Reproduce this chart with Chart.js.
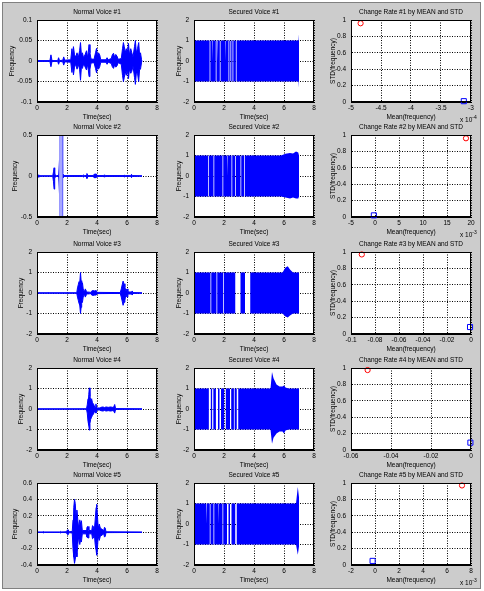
<!DOCTYPE html>
<html><head><meta charset="utf-8">
<script src="https://cdn.jsdelivr.net/npm/chart.js@4"></script>
<style>
html,body{margin:0;padding:0;background:#fff;width:484px;height:591px;overflow:hidden;font-family:"Liberation Sans",Arial,sans-serif}
#fig{position:absolute;left:2px;top:2px;width:479px;height:587px;background:#cccccc;border:1px solid #808080;box-sizing:border-box}
canvas{position:absolute}
.mult{position:absolute;font-size:6.5px;color:#000;white-space:nowrap;line-height:1}
.mult sup{font-size:5px;vertical-align:3px}
</style></head><body><div id="fig"></div>
<script>
// ---------------- DATA ----------------
const timeTicks = [0, 2, 4, 6, 8];
const titlesNormal = ['Normal Voice #1','Normal Voice #2','Normal Voice #3','Normal Voice #4','Normal Voice #5'];
const titlesSecured = ['Secured Voice #1','Secured Voice #2','Secured Voice #3','Secured Voice #4','Secured Voice #5'];
const titlesRate = ['Change Rate #1 by MEAN and STD','Change Rate #2 by MEAN and STD','Change Rate #3 by MEAN and STD','Change Rate #4 by MEAN and STD','Change Rate #5 by MEAN and STD'];

// Normal voice envelopes (time in sec, upper / lower amplitude)
const nv1Time  = [0,0.86,0.93,1.0,1.38,1.44,1.5,1.72,1.78,1.85,2.25,2.33,2.38,2.43,2.5,2.58,2.67,2.75,2.84,2.9,2.96,3.03,3.1,3.2,3.3,3.38,3.47,3.53,3.6,3.8,3.9,3.97,4.03,4.1,4.18,4.25,4.6,4.67,4.75,4.95,5.02,5.1,5.17,5.25,5.33,5.42,5.62,5.7,5.76,5.82,5.88,5.95,6.02,6.1,6.16,6.25,6.32,6.4,6.5,6.56,6.62,6.7,6.78,6.84,6.9,6.97,7.0];
const nv1Upper = [0.001,0.001,0.015,0.001,0.001,0.008,0.001,0.002,0.01,0.002,0.003,0.03,0.012,0.035,0.015,0.01,0.02,0.008,0.025,0.045,0.015,0.02,0.008,0.015,0.025,0.008,0.04,0.02,0.005,0.004,0.02,0.031,0.012,0.02,0.015,0.003,0.003,0.008,0.003,0.006,0.015,0.019,0.01,0.016,0.012,0.004,0.006,0.03,0.045,0.035,0.02,0.03,0.02,0.043,0.015,0.03,0.02,0.01,0.035,0.05,0.02,0.03,0.045,0.015,0.02,0.003,0.001];
const nv1Lower = [-0.001,-0.001,-0.014,-0.001,-0.001,-0.008,-0.001,-0.002,-0.01,-0.002,-0.003,-0.028,-0.01,-0.034,-0.015,-0.008,-0.02,-0.008,-0.02,-0.047,-0.015,-0.018,-0.008,-0.014,-0.022,-0.008,-0.038,-0.02,-0.005,-0.004,-0.018,-0.029,-0.012,-0.02,-0.014,-0.003,-0.003,-0.008,-0.003,-0.006,-0.014,-0.018,-0.01,-0.015,-0.012,-0.004,-0.008,-0.035,-0.05,-0.04,-0.025,-0.035,-0.02,-0.043,-0.02,-0.03,-0.025,-0.012,-0.04,-0.057,-0.03,-0.03,-0.05,-0.02,-0.02,-0.003,-0.001];

const nv2Time  = [0,0.08,0.12,0.16,1.05,1.1,1.14,1.18,1.3,1.45,1.5,1.53,1.56,1.6,1.64,1.68,1.71,1.8,3.05,3.1,3.15,3.28,3.33,3.4,3.75,3.8,3.95,4.02,4.45,4.5,4.55,5.8,5.85,5.9,6.25,6.3,6.35,7.0];
const nv2Upper = [0.003,0.003,0.015,0.003,0.003,0.05,0.1,0.02,0.003,0.01,0.2,0.6,0.05,0.04,0.03,0.6,0.03,0.005,0.005,0.012,0.005,0.005,0.03,0.005,0.005,0.02,0.025,0.005,0.005,0.015,0.005,0.005,0.012,0.005,0.005,0.02,0.005,0.003];
const nv2Lower = [-0.003,-0.003,-0.015,-0.003,-0.003,-0.07,-0.16,-0.02,-0.003,-0.01,-0.22,-0.6,-0.05,-0.04,-0.03,-0.6,-0.03,-0.005,-0.005,-0.012,-0.005,-0.005,-0.03,-0.005,-0.005,-0.02,-0.02,-0.005,-0.005,-0.015,-0.005,-0.005,-0.012,-0.005,-0.005,-0.02,-0.005,-0.003];
// clipped (saturated) band in voice #2
const nv2BandTime  = [1.47,1.72];
const nv2BandUpper = [0.6,0.6];
const nv2BandLower = [-0.6,-0.6];

const nv3Time  = [0,0.74,0.78,0.82,2.65,2.7,2.75,2.8,2.85,2.9,2.94,2.98,3.03,3.08,3.15,3.22,3.28,3.35,3.6,3.65,3.75,3.85,3.95,4.0,5.55,5.62,5.68,5.74,5.8,5.86,5.92,6.0,6.06,6.3,6.35,6.4,7.0];
const nv3Upper = [0.01,0.01,0.04,0.01,0.01,0.25,0.4,0.55,0.5,1.0,0.6,0.4,0.5,0.2,0.05,0.2,0.1,0.05,0.03,0.1,0.12,0.1,0.12,0.03,0.02,0.2,0.4,0.58,0.45,0.3,0.1,0.2,0.05,0.05,0.1,0.02,0.01];
const nv3Lower = [-0.01,-0.01,-0.04,-0.01,-0.01,-0.2,-0.35,-0.5,-0.6,-1.0,-0.7,-0.5,-0.45,-0.2,-0.05,-0.2,-0.1,-0.05,-0.03,-0.1,-0.12,-0.1,-0.1,-0.03,-0.02,-0.2,-0.4,-0.6,-0.45,-0.35,-0.1,-0.2,-0.05,-0.05,-0.1,-0.02,-0.01];

const nv4Time  = [0,3.3,3.35,3.4,3.45,3.49,3.53,3.58,3.64,3.7,3.76,3.82,3.88,3.93,3.98,4.2,4.25,4.4,4.5,4.6,4.75,4.9,5.05,5.12,5.18,5.24,7.0];
const nv4Upper = [0.01,0.01,0.2,0.5,0.7,1.03,0.6,0.45,0.5,0.3,0.25,0.15,0.05,0.25,0.05,0.05,0.08,0.1,0.07,0.1,0.08,0.1,0.08,0.1,0.22,0.02,0.01];
const nv4Lower = [-0.01,-0.01,-0.2,-0.6,-0.8,-1.03,-0.7,-0.5,-0.4,-0.3,-0.25,-0.15,-0.05,-0.2,-0.05,-0.05,-0.08,-0.1,-0.07,-0.1,-0.08,-0.1,-0.08,-0.1,-0.2,-0.02,-0.01];

const nv5Time  = [0,0.4,0.44,0.48,1.5,1.55,1.6,1.95,2.02,2.08,2.14,2.35,2.4,2.45,2.5,2.55,2.6,2.66,2.72,2.78,2.85,2.9,2.96,3.02,3.28,3.33,3.4,3.46,3.65,3.7,3.76,3.82,3.88,3.94,3.98,4.03,4.08,4.15,4.22,4.45,4.5,4.55,4.6,7.0];
const nv5Upper = [0.003,0.003,0.008,0.003,0.003,0.01,0.003,0.005,0.025,0.03,0.005,0.01,0.15,0.3,0.4,0.35,0.2,0.27,0.15,0.05,0.15,0.1,0.14,0.02,0.02,0.06,0.07,0.02,0.02,0.08,0.07,0.02,0.15,0.3,0.34,0.2,0.05,0.1,0.05,0.02,0.06,0.05,0.005,0.003];
const nv5Lower = [-0.003,-0.003,-0.008,-0.003,-0.003,-0.01,-0.003,-0.005,-0.025,-0.03,-0.005,-0.01,-0.2,-0.3,-0.38,-0.33,-0.25,-0.3,-0.15,-0.05,-0.15,-0.1,-0.12,-0.02,-0.02,-0.06,-0.07,-0.02,-0.02,-0.08,-0.07,-0.02,-0.15,-0.22,-0.28,-0.2,-0.05,-0.1,-0.05,-0.02,-0.06,-0.05,-0.005,-0.003];

// Secured voices: block of +/-1 up to the end time, white gaps, overshoot points
const svEnd = [7.0, 7.0, 7.0, 7.0, 7.0];
const sv1GapStart = [1.04,1.2,1.45,1.54,1.72,2.08,2.3,2.43,2.57,2.79];
const sv1GapEnd   = [1.09,1.25,1.5,1.59,1.77,2.13,2.35,2.48,2.62,2.84];
const sv1PeakTime = [6.97,7.0], sv1PeakUpper = [1,1.3], sv1PeakLower = [-1,-1.3];

const sv2GapStart = [0.95,1.3,1.9,2.2,2.5,2.75,3.1,3.35];
const sv2GapEnd   = [1.0,1.35,1.95,2.25,2.55,2.8,3.15,3.4];
const sv2PeakTime = [5.8,6.1,6.4,6.6,6.8,6.95], sv2PeakUpper = [1,1.08,1.12,1.1,1.2,1.15], sv2PeakLower = [-1,-1.05,-1.1,-1.05,-1.1,-1.1];

const sv3GapStart = [1.1,1.5,1.95,2.75,3.4];
const sv3GapEnd   = [1.15,1.55,2.0,3.1,3.75];
const sv3PeakTime = [5.9,6.1,6.25,6.4,6.6], sv3PeakUpper = [1,1.25,1.3,1.15,1], sv3PeakLower = [-1,-1.15,-1.2,-1.1,-1];

const sv4GapStart = [0.99,1.21,1.46,1.7,2.01,2.4,2.66,2.85];
const sv4GapEnd   = [1.12,1.29,1.6,1.8,2.12,2.48,2.71,2.95];
const sv4PeakTime = [5.1,5.2,5.3,5.5,5.7,5.9,6.0,6.1,6.3], sv4PeakUpper = [1,1.8,1.5,1.2,1.1,1.1,1.15,1.05,1], sv4PeakLower = [-1,-1.7,-1.4,-1.2,-1.1,-1.1,-1.2,-1.05,-1];

const sv5GapStart = [0.8,1.05,1.3,1.6,1.9,2.2,2.4,2.75];
const sv5GapEnd   = [0.86,1.1,1.35,1.65,1.95,2.3,2.5,2.85];
const sv5PeakTime = [6.8,6.92,7.0], sv5PeakUpper = [1,1.8,1.3], sv5PeakLower = [-1,-1.5,-1.1];

// Change rate scatter (mean, std)
const crRedMean  = [-4.84e-4, 18.95e-3, -0.091, -0.0517, 7.25e-3];
const crRedStd   = [0.96, 0.96, 0.97, 0.975, 0.97];
const crBlueMean = [-3.12e-4, -0.24e-3, -0.0008, -0.0003, -0.2e-3];
const crBlueStd  = [0.01, 0.02, 0.085, 0.09, 0.05];

// Axis ranges / ticks
const nvYRange = [[-0.1,0.1,0.05],[-0.5,0.5,0.5],[-2,2,1],[-2,2,1],[-0.4,0.6,0.2]];
const svYRange = [[-2,2,1],[-2,2,1],[-2,2,1],[-2,2,1],[-2,2,1]];
const crXRange = [[-5e-4,-3e-4,0.5e-4],[-5e-3,20e-3,5e-3],[-0.1,0,0.02],[-0.06,0,0.02],[-2e-3,8e-3,2e-3]];
const crXExponent = [-4,-3,null,null,-3];
const crYRange = [0,1,0.2];

// ---------------- DRAWING ----------------
Chart.defaults.font.family = '"Liberation Sans", Arial, Helvetica, sans-serif';
Chart.defaults.font.size = 6.5;
Chart.defaults.color = '#000';

const COL_LEFT = [37,194,351];
const ROW_TOP = [20,135,252,368,483];
const PW = 120, PH = 82, ML = 37, MT = 20, MR = 8, MB = 24;
const nvYLabelDist = [25,22,16,16,22];
const GRID_DASH = [1,1.5];

const boxPlugin = {
  id:'axbox',
  beforeDraw(chart){
    const {ctx, chartArea:a} = chart;
    ctx.save(); ctx.fillStyle='#fff'; ctx.fillRect(a.left,a.top,a.right-a.left,a.bottom-a.top); ctx.restore();
  },
  afterDatasetsDraw(chart){
    const {ctx, chartArea:a} = chart;
    ctx.save(); ctx.strokeStyle='#000'; ctx.lineWidth=1;
    ctx.strokeRect(Math.round(a.left)+0.5, Math.round(a.top)+0.5, Math.round(a.right-a.left)-1, Math.round(a.bottom-a.top)-1);
    ctx.restore();
  }
};

const fmt = v => String(Math.round(v*1e6)/1e6);

function makePlot(col,row,cfg){
  const px = COL_LEFT[col], py = ROW_TOP[row];
  const c = document.createElement('canvas');
  c.width = ML+PW+MR; c.height = MT+PH+MB;
  c.style.left = (px-ML)+'px'; c.style.top = (py-MT)+'px';
  c.style.width = c.width+'px'; c.style.height = c.height+'px';
  document.body.appendChild(c);
  const yPadTop = ML - cfg.yLabelDist - 3.9;
  new Chart(c,{
    type: cfg.type,
    data:{datasets:cfg.datasets},
    options:{
      responsive:false, animation:false, devicePixelRatio:1,
      events:[],
      layout:{padding:{left:0,right:MR,top:0,bottom:0}},
      plugins:{legend:{display:false},tooltip:{enabled:false},
        title:{display:true,fullSize:false,text:cfg.title,color:'#000',font:{size:6.5,weight:'normal'},padding:{top:8,bottom:4.2}}},
      scales:{
        x:{type:'linear',position:'bottom',min:cfg.x[0],max:cfg.x[1],
           afterFit:s=>{s.height=MB;},
           ticks:{stepSize:cfg.x[2],padding:2.1,maxRotation:0,autoSkip:false,includeBounds:true,callback:cfg.xFmt||fmt,color:'#000',font:{size:6.5}},
           grid:{color:'#000',lineWidth:1,drawTicks:false},
           border:{display:true,color:'#000',dash:GRID_DASH},
           title:{display:true,text:cfg.xTitle,color:'#000',font:{size:6.5},padding:{top:0,bottom:5.1}}},
        y:{type:'linear',position:'left',min:cfg.y[0],max:cfg.y[1],
           afterFit:s=>{s.width=ML;},
           ticks:{stepSize:cfg.y[2],padding:5,autoSkip:false,callback:fmt,color:'#000',font:{size:6.5}},
           grid:{color:'#000',lineWidth:1,drawTicks:false},
           border:{display:true,color:'#000',dash:GRID_DASH},
           title:{display:true,text:cfg.yTitle,color:'#000',font:{size:6.5},padding:{top:yPadTop,bottom:0}}}
      }
    },
    plugins:[boxPlugin]
  });
}

function envelopeSets(t,hi,lo,color,fillColor,bw){
  return [
    {data:t.map((x,i)=>({x,y:hi[i]})),borderColor:color,backgroundColor:fillColor,borderWidth:bw,pointRadius:0,tension:0,fill:false},
    {data:t.map((x,i)=>({x,y:lo[i]})),borderColor:color,backgroundColor:fillColor,borderWidth:bw,pointRadius:0,tension:0,fill:'-1'}
  ];
}

function securedTable(end,gs,ge,pt,pu,pl){
  const pts=[[0,1,-1]];
  gs.forEach((s,i)=>{pts.push([s,1,-1],[s,0,0],[ge[i],0,0],[ge[i],1,-1]);});
  pt.forEach((t,i)=>pts.push([t,pu[i],pl[i]]));
  pts.push([end,1,-1],[end,0,0]);
  pts.sort((a,b)=>a[0]-b[0]);
  return {t:pts.map(p=>p[0]),hi:pts.map(p=>p[1]),lo:pts.map(p=>p[2])};
}

const nvData = [
  [nv1Time,nv1Upper,nv1Lower],[nv2Time,nv2Upper,nv2Lower],[nv3Time,nv3Upper,nv3Lower],
  [nv4Time,nv4Upper,nv4Lower],[nv5Time,nv5Upper,nv5Lower]];
const svData = [
  [sv1GapStart,sv1GapEnd,sv1PeakTime,sv1PeakUpper,sv1PeakLower],
  [sv2GapStart,sv2GapEnd,sv2PeakTime,sv2PeakUpper,sv2PeakLower],
  [sv3GapStart,sv3GapEnd,sv3PeakTime,sv3PeakUpper,sv3PeakLower],
  [sv4GapStart,sv4GapEnd,sv4PeakTime,sv4PeakUpper,sv4PeakLower],
  [sv5GapStart,sv5GapEnd,sv5PeakTime,sv5PeakUpper,sv5PeakLower]];

const tRange = [timeTicks[0], timeTicks[timeTicks.length-1], timeTicks[1]-timeTicks[0]];
for(let r=0;r<5;r++){
  // Normal voice
  let ds = [];
  if(r===1){ ds = ds.concat(envelopeSets(nv2BandTime,nv2BandUpper,nv2BandLower,'rgba(0,0,0,0)','#a8a8ff',0)); }
  ds = ds.concat(envelopeSets(nvData[r][0],nvData[r][1],nvData[r][2],'#0000ff','#0000ff',1));
  makePlot(0,r,{type:'line',datasets:ds,title:titlesNormal[r],x:tRange,y:nvYRange[r],xTitle:'Time(sec)',yTitle:'Frequency',yLabelDist:nvYLabelDist[r]});
  // Secured voice
  const s = svData[r];
  const tb = securedTable(svEnd[r],s[0],s[1],s[2],s[3],s[4]);
  makePlot(1,r,{type:'line',datasets:envelopeSets(tb.t,tb.hi,tb.lo,'rgba(0,0,0,0)','#0000ff',0),title:titlesSecured[r],x:tRange,y:svYRange[r],xTitle:'Time(sec)',yTitle:'Frequency',yLabelDist:15});
  // Change rate
  const e = crXExponent[r];
  const xf = e===null ? fmt : (v => String(Math.round(v/Math.pow(10,e)*1000)/1000));
  makePlot(2,r,{type:'scatter',datasets:[
    {data:[{x:crRedMean[r],y:crRedStd[r]}],pointStyle:'circle',pointRadius:2.6,borderColor:'#ff0000',backgroundColor:'rgba(0,0,0,0)',borderWidth:1,clip:false},
    {data:[{x:crBlueMean[r],y:crBlueStd[r]}],pointStyle:'rect',pointRadius:3.6,borderColor:'#0000ff',backgroundColor:'rgba(0,0,0,0)',borderWidth:1,clip:false}
  ],title:titlesRate[r],x:crXRange[r],xFmt:xf,y:crYRange,xTitle:'Mean(frequency)',yTitle:'STD(frequency)',yLabelDist:18});
  if(e!==null){
    const d=document.createElement('div'); d.className='mult';
    d.innerHTML='x 10<sup>'+e+'</sup>';
    d.style.left='460px'; d.style.top=(ROW_TOP[r]+PH+13)+'px';
    document.body.appendChild(d);
  }
}
</script>
</body></html>
